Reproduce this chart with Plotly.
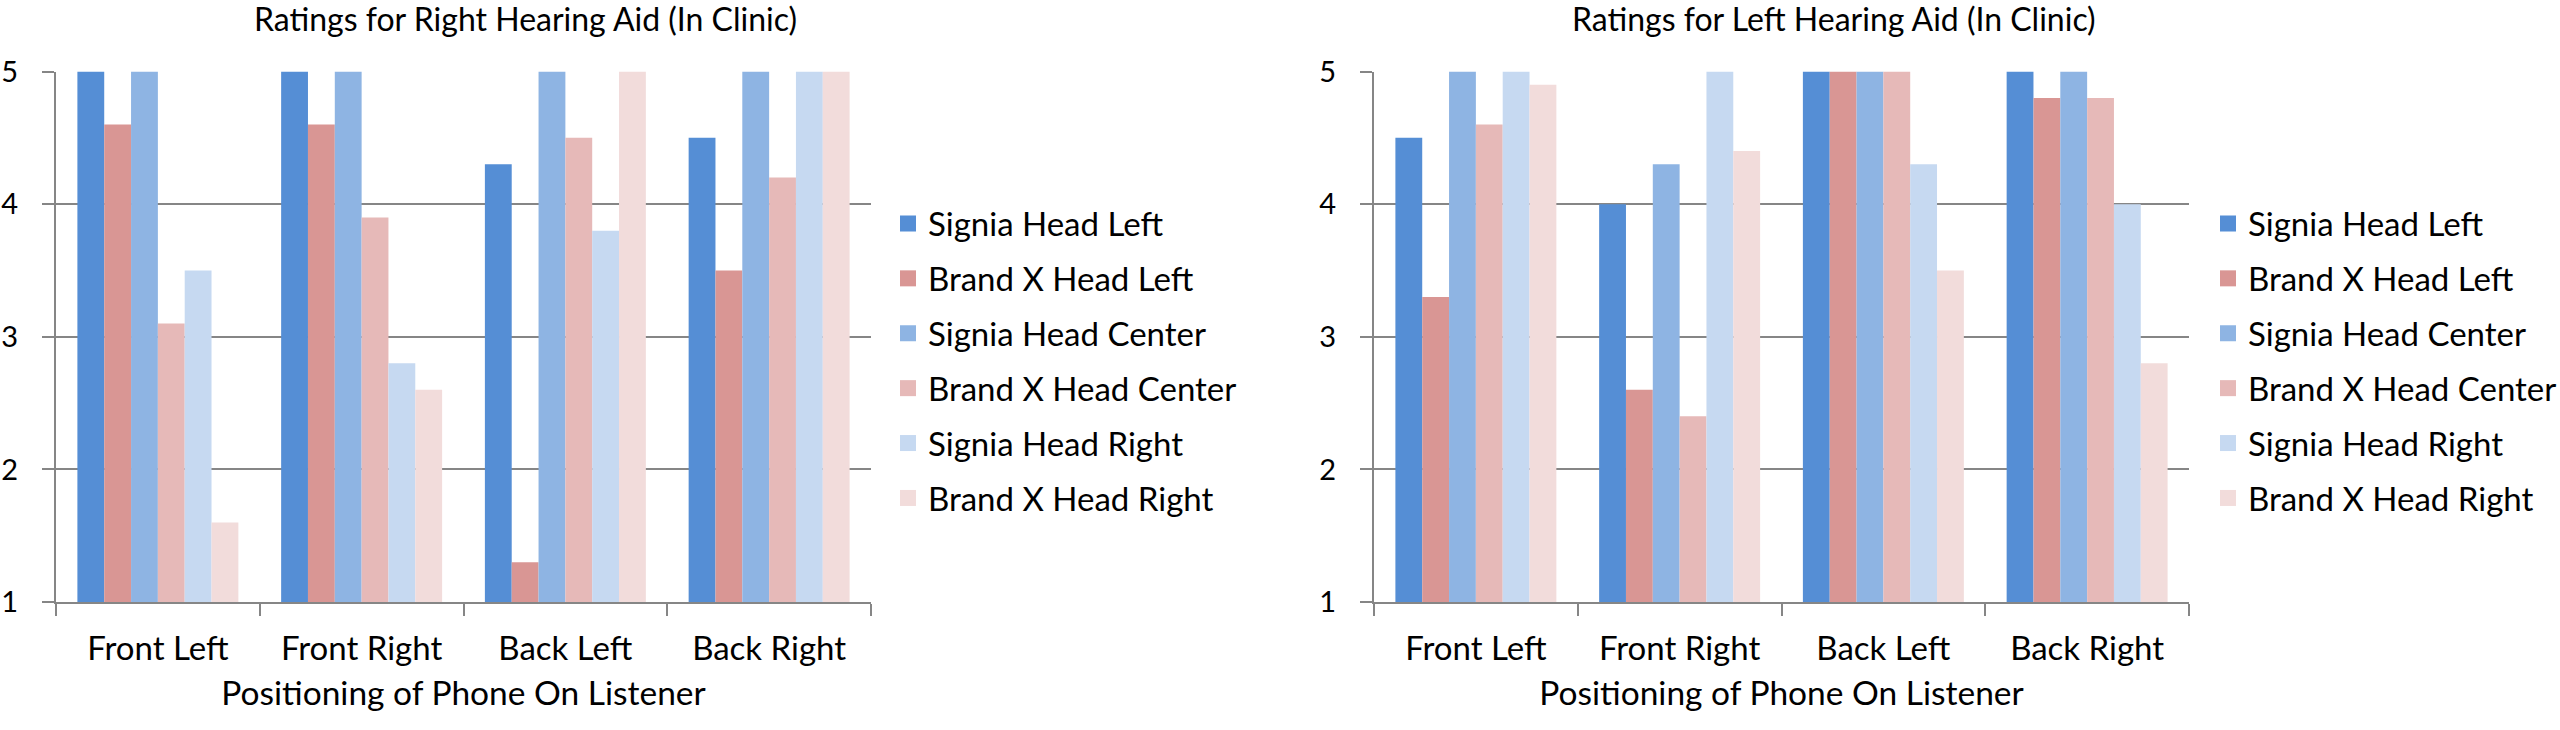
import plotly.graph_objects as go

# ---------------- data ----------------
categories = ["Front Left", "Front Right", "Back Left", "Back Right"]
series_names = ["Signia Head Left", "Brand X Head Left", "Signia Head Center",
                "Brand X Head Center", "Signia Head Right", "Brand X Head Right"]
series_colors = ["#558ED5", "#D99694", "#8EB4E3", "#E6B9B8", "#C6D9F1", "#F2DCDB"]

# Ratings for Right Hearing Aid (In Clinic)
right_signia_left = [5.0, 5.0, 4.3, 4.5]
right_brandx_left = [4.6, 4.6, 1.3, 3.5]
right_signia_center = [5.0, 5.0, 5.0, 5.0]
right_brandx_center = [3.1, 3.9, 4.5, 4.2]
right_signia_right = [3.5, 2.8, 3.8, 5.0]
right_brandx_right = [1.6, 2.6, 5.0, 5.0]

# Ratings for Left Hearing Aid (In Clinic)
left_signia_left = [4.5, 4.0, 5.0, 5.0]
left_brandx_left = [3.3, 2.6, 5.0, 4.8]
left_signia_center = [5.0, 4.3, 5.0, 5.0]
left_brandx_center = [4.6, 2.4, 5.0, 4.8]
left_signia_right = [5.0, 5.0, 4.3, 4.0]
left_brandx_right = [4.9, 4.4, 3.5, 2.8]

y_ticks = [1, 2, 3, 4, 5]
title_right = "Ratings for Right Hearing Aid (In Clinic)"
title_left = "Ratings for Left Hearing Aid (In Clinic)"
x_title = "Positioning of Phone On Listener"

right_series = [right_signia_left, right_brandx_left, right_signia_center,
                right_brandx_center, right_signia_right, right_brandx_right]
left_series = [left_signia_left, left_brandx_left, left_signia_center,
               left_brandx_center, left_signia_right, left_brandx_right]

# ---------------- style ----------------
FONT = "Lato"
TXT = "#000000"
GRID = "#868686"
TICK_SIZE = 29
CAT_SIZE = 33
LEG_SIZE = 33
TITLE_SIZE = 32
AXT_SIZE = 33.5

fig = go.Figure()

panels = [
    (right_series, "x", "y", "legend", "r"),
    (left_series, "x2", "y2", "legend2", "l"),
]
for values_list, xa, ya, leg, tag in panels:
    for name, color, vals in zip(series_names, series_colors, values_list):
        grp = tag + name
        fig.add_trace(go.Bar(
            x=categories, y=vals, name=name, marker=dict(color=color, line=dict(width=0)),
            xaxis=xa, yaxis=ya, showlegend=False, legendgroup=grp, legend=leg,
        ))
        # legend swatch entry
        fig.add_trace(go.Scatter(
            x=[None], y=[None], mode="markers", name=name,
            marker=dict(symbol="square", size=16, color=color),
            xaxis=xa, yaxis=ya, showlegend=True, legendgroup=grp, legend=leg,
        ))

W, H = 2560, 730
y_bottom = (H - 602) / H
y_top = (H - 71.5) / H

common_x = dict(
    type="category", showline=True, linecolor=GRID, linewidth=2,
    ticks="outside", tickson="boundaries", ticklen=12, tickwidth=2, tickcolor=GRID,
    tickfont=dict(family=FONT, size=CAT_SIZE, color=TXT), ticklabelstandoff=16,
    showgrid=False, zeroline=False, fixedrange=True, automargin=False,
    title=dict(text=x_title, font=dict(family=FONT, size=AXT_SIZE, color=TXT), standoff=16),
)
common_y = dict(
    range=[1, 5], tickvals=y_ticks, showline=True, linecolor=GRID, linewidth=2,
    ticks="outside", ticklen=12, tickwidth=2, tickcolor=GRID,
    tickfont=dict(family=FONT, size=TICK_SIZE, color=TXT), ticklabelstandoff=18,
    showgrid=True, gridcolor=GRID, gridwidth=2, zeroline=False, fixedrange=True,
    automargin=False,
)

legend_common = dict(
    font=dict(family=FONT, size=LEG_SIZE, color=TXT),
    bgcolor="rgba(0,0,0,0)", borderwidth=0, tracegroupgap=9,
    xanchor="left", yanchor="middle", y=(H - 361) / H, itemclick=False, itemdoubleclick=False,
)

fig.update_layout(
    width=W, height=H,
    margin=dict(l=0, r=0, t=0, b=0, pad=0, autoexpand=False),
    paper_bgcolor="white", plot_bgcolor="white",
    barmode="group", bargap=0.21, bargroupgap=0,
    xaxis=dict(domain=[56 / W, 871 / W], anchor="y", **common_x),
    yaxis=dict(domain=[y_bottom, y_top], anchor="x", **common_y),
    xaxis2=dict(domain=[1374 / W, 2189 / W], anchor="y2", **common_x),
    yaxis2=dict(domain=[y_bottom, y_top], anchor="x2", **common_y),
    legend=dict(x=888 / W, **legend_common),
    legend2=dict(x=2208 / W, **legend_common),
    annotations=[
        dict(text=title_right, x=525 / W, y=(H - 18) / H, xref="paper", yref="paper",
             xanchor="center", yanchor="middle", showarrow=False,
             font=dict(family=FONT, size=TITLE_SIZE, color=TXT)),
        dict(text=title_left, x=1834 / W, y=(H - 18) / H, xref="paper", yref="paper",
             xanchor="center", yanchor="middle", showarrow=False,
             font=dict(family=FONT, size=TITLE_SIZE, color=TXT)),
    ],
    showlegend=True,
)

fig.write_html(
    "out.html",
    config={"displayModeBar": False},
    post_script="document.body.style.margin='0';document.body.style.padding='0';"
                "document.documentElement.style.overflow='hidden';",
)
